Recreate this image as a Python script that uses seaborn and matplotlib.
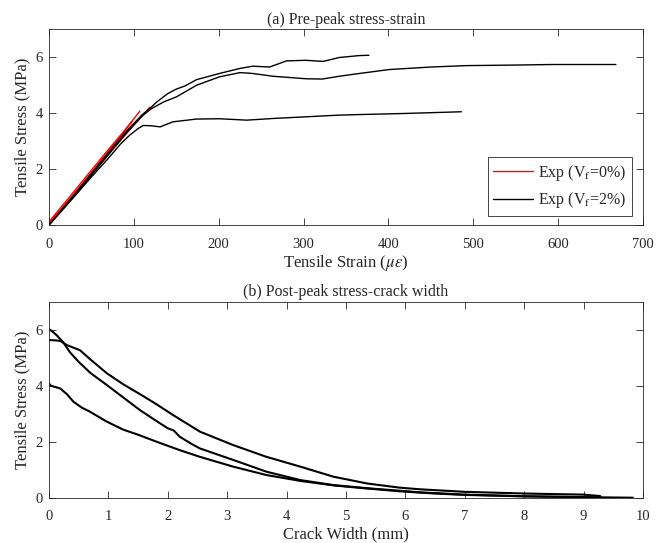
import matplotlib
matplotlib.use("Agg")
import matplotlib.pyplot as plt
from matplotlib.lines import Line2D
import pandas as pd
import seaborn as sns

# ---------------- (a) pre-peak stress-strain ----------------
# plain concrete (Vf = 0%)
r1_strain = [0, 20, 45, 70, 90, 107]
r1_stress = [0.12, 0.85, 1.78, 2.70, 3.42, 4.07]
r2_strain = [0, 25, 50, 75, 100, 119]
r2_stress = [0.02, 0.90, 1.80, 2.70, 3.58, 4.22]
r3_strain = [0, 25, 50, 75, 98]
r3_stress = [0.06, 0.95, 1.88, 2.82, 3.70]

# fibre-reinforced concrete (Vf = 2%)
a_strain = [0, 30, 60, 90, 110, 120, 127, 140, 150, 160, 174, 201, 225, 240,
            260, 280, 303, 323, 342, 366, 377]
a_stress = [0, 1.10, 2.22, 3.32, 3.95, 4.20, 4.40, 4.70, 4.86, 4.97, 5.20,
            5.42, 5.60, 5.68, 5.65, 5.87, 5.89, 5.85, 5.99, 6.06, 6.07]
b_strain = [0, 30, 60, 90, 110, 120, 135, 150, 174, 201, 225, 240, 264, 303,
            322, 342, 366, 401, 450, 491, 550, 593, 668]
b_stress = [0, 1.05, 2.15, 3.25, 3.90, 4.15, 4.40, 4.58, 5.00, 5.30, 5.45,
            5.42, 5.32, 5.23, 5.22, 5.32, 5.42, 5.56, 5.65, 5.70, 5.72, 5.74, 5.74]
c_strain = [0, 25, 50, 68, 85, 95, 105, 111, 120, 131, 146, 174, 201, 233,
            264, 303, 342, 366, 420, 486]
c_stress = [0, 0.85, 1.72, 2.32, 2.92, 3.21, 3.45, 3.56, 3.55, 3.51, 3.69,
            3.79, 3.80, 3.75, 3.81, 3.87, 3.93, 3.95, 3.99, 4.05]

# ---------------- (b) post-peak stress-crack width ----------------
p1_width = [0, 0.05, 0.13, 0.24, 0.35, 0.50, 0.70, 0.97, 1.25, 1.53, 1.80,
            2.00, 2.10, 2.20, 2.40, 2.54, 3.10, 3.66, 4.23, 4.79, 5.35, 5.90,
            6.25, 7.00, 8.00, 9.00, 9.83]
p1_stress = [6.02, 5.95, 5.80, 5.55, 5.20, 4.85, 4.45, 4.03, 3.58, 3.13, 2.75,
             2.48, 2.40, 2.18, 1.92, 1.76, 1.35, 0.93, 0.63, 0.45, 0.34, 0.25,
             0.19, 0.11, 0.05, 0.02, 0.0]
p2_width = [0, 0.10, 0.19, 0.30, 0.52, 0.69, 0.97, 1.25, 1.53, 1.80, 2.09,
            2.54, 3.10, 3.66, 4.23, 4.79, 5.35, 5.90, 6.25, 7.00, 8.00, 9.00, 9.28]
p2_stress = [5.63, 5.62, 5.60, 5.45, 5.27, 4.95, 4.45, 4.05, 3.70, 3.35, 2.95,
             2.36, 1.88, 1.46, 1.11, 0.75, 0.51, 0.36, 0.30, 0.21, 0.15, 0.11, 0.06]
p3_width = [0, 0.03, 0.19, 0.30, 0.41, 0.55, 0.69, 0.97, 1.25, 1.50, 1.81,
            2.20, 2.54, 3.10, 3.66, 4.23, 4.79, 5.35, 5.90, 6.50, 7.00, 8.00, 9.00, 9.30]
p3_stress = [4.08, 4.00, 3.90, 3.70, 3.43, 3.22, 3.07, 2.72, 2.43, 2.25, 2.00,
             1.70, 1.46, 1.11, 0.81, 0.60, 0.44, 0.33, 0.23, 0.15, 0.10, 0.05, 0.02, 0.0]

label_0 = "Exp (V$_\\mathrm{f}$=0%)"
label_2 = "Exp (V$_\\mathrm{f}$=2%)"


def long_table(curves, xname, yname):
    frames = []
    for i, (x, y, group) in enumerate(curves):
        frames.append(pd.DataFrame({xname: x, yname: y, "spec": i, "group": group,
                                    "order": range(len(x))}))
    return pd.concat(frames, ignore_index=True)


pre = long_table([(r1_strain, r1_stress, label_0),
                  (r2_strain, r2_stress, label_0),
                  (r3_strain, r3_stress, label_0),
                  (a_strain, a_stress, label_2),
                  (b_strain, b_stress, label_2),
                  (c_strain, c_stress, label_2)], "strain", "stress")
post = long_table([(p1_width, p1_stress, label_2),
                   (p2_width, p2_stress, label_2),
                   (p3_width, p3_stress, label_2)], "width", "stress")

sns.set_theme(style="white")
plt.rcParams.update({
    "font.family": ["Liberation Serif", "DejaVu Serif"],
    "mathtext.fontset": "stix",
    "font.size": 10.5,
    "axes.labelsize": 12,
    "axes.edgecolor": "#262626",
    "axes.linewidth": 0.6,
    "axes.labelcolor": "#262626",
    "text.color": "#262626",
    "xtick.color": "#262626",
    "ytick.color": "#262626",
    "xtick.direction": "in",
    "ytick.direction": "in",
    "xtick.top": True,
    "xtick.bottom": True,
    "ytick.left": True,
    "ytick.right": True,
    "xtick.major.size": 5,
    "ytick.major.size": 5,
    "xtick.major.width": 0.6,
    "ytick.major.width": 0.6,
    "xtick.major.pad": 9,
    "ytick.major.pad": 4.5,
    "xtick.labelsize": 10.5,
    "ytick.labelsize": 10.5,
})

palette = {label_0: "#ff0000", label_2: "#000000"}

fig = plt.figure(figsize=(6.64, 5.43), dpi=100)
ax1 = fig.add_axes([0.0738, 0.5856, 0.8946, 0.3605])
ax2 = fig.add_axes([0.0738, 0.0834, 0.8946, 0.3610])

sns.lineplot(data=pre, x="strain", y="stress", hue="group", units="spec",
             estimator=None, sort=False, palette=palette, linewidth=1.0,
             legend=False, ax=ax1)
ax1.set_xlim(0, 700)
ax1.set_ylim(0, 7)
ax1.set_xticks(range(0, 701, 100))
ax1.set_yticks([0, 2, 4, 6])
ax1.set_xlabel("Tensile Strain ($\\mu\\epsilon$)", labelpad=2)
ax1.set_ylabel("Tensile Stress (MPa)", labelpad=4)
ax1.set_title("(a) Pre-peak stress-strain", fontsize=11.5, pad=4)

handles = [Line2D([], [], color=palette[label_0], lw=1.0),
           Line2D([], [], color=palette[label_2], lw=1.0)]
leg = ax1.legend(handles, [label_0, label_2], loc="lower right",
                 bbox_to_anchor=(0.981, 0.0475), borderaxespad=0,
                 fancybox=False, framealpha=1, edgecolor="#262626",
                 handlelength=2.5, handletextpad=0.3, borderpad=0.35,
                 labelspacing=0.45, fontsize=11.5)
leg.get_frame().set_linewidth(0.6)

sns.lineplot(data=post, x="width", y="stress", units="spec", color="black",
             estimator=None, sort=False, linewidth=1.5, legend=False, ax=ax2)
ax2.set_xlim(0, 10)
ax2.set_ylim(0, 7)
ax2.set_xticks(range(0, 11))
ax2.set_yticks([0, 2, 4, 6])
ax2.set_xlabel("Crack Width (mm)", labelpad=2)
ax2.set_ylabel("Tensile Stress (MPa)", labelpad=4)
ax2.set_title("(b) Post-peak stress-crack width", fontsize=11.5, pad=4)

fig.savefig("out.png", dpi=100)
